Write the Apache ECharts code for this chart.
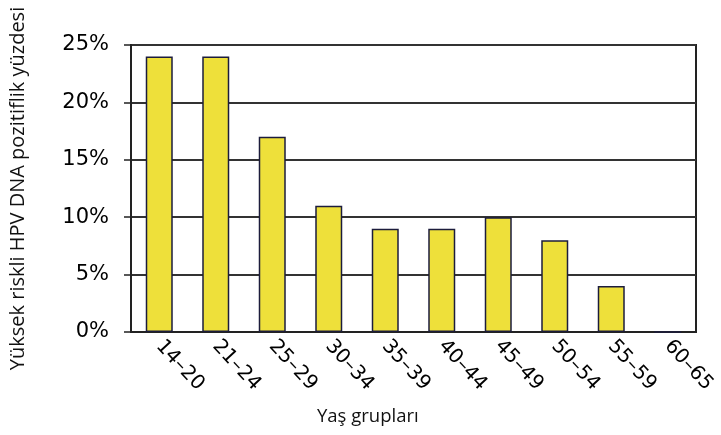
<!DOCTYPE html>
<html>
<head>
<meta charset="utf-8">
<style>
  html, body { margin: 0; padding: 0; background: #ffffff; }
  #chart { width: 721px; height: 435px; }
</style>
<script src="https://cdn.jsdelivr.net/npm/echarts@6/dist/echarts.min.js"></script>
</head>
<body>
<div id="chart"></div>
<script>
// Age groups and share of high-risk HPV DNA positives (%)
const categories = ['14–20', '21–24', '25–29', '30–34', '35–39', '40–44', '45–49', '50–54', '55–59', '60–65'];
const positivity = [24, 24, 17, 11, 9, 9, 10, 8, 4, 0];
const yTicks = [0, 5, 10, 15, 20, 25];

const chart = echarts.init(document.getElementById('chart'), null, { renderer: 'canvas' });

chart.setOption({
  backgroundColor: '#ffffff',
  animation: false,
  title: {
    text: 'Yaş grupları',
    left: 312,
    top: 402,
    textStyle: { fontFamily: 'Open Sans', fontSize: 18.5, fontWeight: 'normal', color: '#111' }
  },
  grid: {
    left: 129, right: 25, top: 45, bottom: 103,
    show: true, borderColor: '#222', borderWidth: 2, backgroundColor: 'transparent'
  },
  xAxis: {
    type: 'category',
    data: categories,
    axisLine: { show: true, lineStyle: { color: '#222', width: 2 } },
    axisTick: { show: false },
    axisLabel: {
      rotate: -47,
      margin: 11,
      interval: 0,
      fontFamily: 'DejaVu Sans',
      fontSize: 20,
      color: '#000'
    }
  },
  yAxis: {
    type: 'value',
    min: yTicks[0],
    max: yTicks[yTicks.length - 1],
    interval: 5,
    name: 'Yüksek riskli HPV DNA pozitiflik yüzdesi',
    nameLocation: 'middle',
    nameGap: 103,
    nameTextStyle: { fontFamily: 'Open Sans', fontSize: 20, color: '#111' },
    axisLine: { show: true, lineStyle: { color: '#222', width: 2 } },
    axisTick: { show: true, inside: false, length: 7, lineStyle: { color: '#222', width: 1.5 } },
    axisLabel: {
      margin: 22,
      fontFamily: 'DejaVu Sans',
      fontSize: 21,
      color: '#000',
      formatter: v => v + '%'
    },
    splitLine: { show: true, lineStyle: { color: '#333', width: 2 } }
  },
  series: [{
    type: 'bar',
    data: positivity,
    barWidth: 27,
    itemStyle: { color: '#EEE03A', borderColor: '#1c1c3c', borderWidth: 1.5 }
  }]
});
</script>
</body>
</html>
